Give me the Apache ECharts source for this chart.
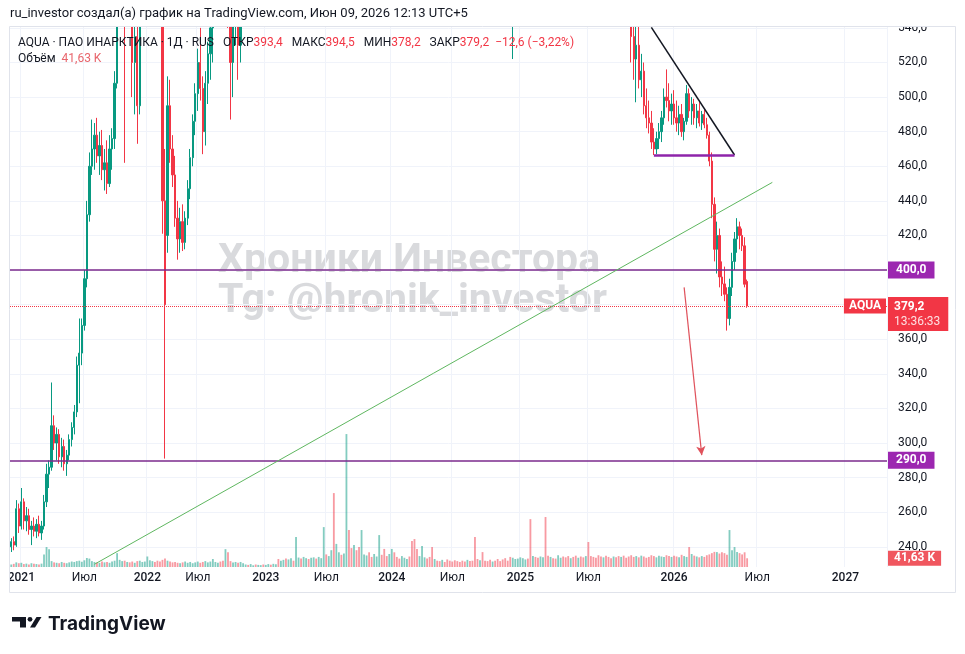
<!DOCTYPE html>
<html lang="ru">
<head>
<meta charset="utf-8">
<title>AQUA · ПАО ИНАРКТИКА</title>
<script src="https://cdn.jsdelivr.net/npm/echarts/dist/echarts.min.js"></script>
<style>
  html, body { margin: 0; padding: 0; background: #fff; }
  #chart { width: 965px; height: 654px; }
</style>
</head>
<body>
<div id="chart"></div>
<script>
// Свечи по 5 торговых сессий: [открытие, максимум, минимум, закрытие]
// конец 2020 - середина 2022
const candlesStart = [
  [240,245,237,243],[243,246,238,241],[241,267,240,262],[262,265,248,252],[252,274,250,266],
  [266,268,250,255],[255,263,249,258],[258,262,247,250],[250,255,241,252],[252,257,246,249],
  [249,256,245,253],[253,258,246,248],[248,255,244,252],[252,270,250,266],[266,288,263,282],
  [282,290,274,286],[286,335,284,310],[310,316,296,300],[300,309,290,305],[305,308,288,292],
  [292,303,286,298],[298,302,284,288],[288,296,281,293],[293,305,290,302],[302,312,298,309],
  [309,322,305,318],[318,350,315,345],[345,372,323,352],[352,372,345,368],[368,400,365,395],
  [395,440,390,432],[432,468,428,460],[460,487,455,470],[470,485,458,478],[478,488,462,466],
  [466,480,455,472],[472,481,452,458],[458,470,446,462],[462,475,444,450],[450,478,448,470],
  [470,482,458,476],[476,515,470,508],[508,560,505,552],[552,590,545,580],[580,600,560,590],
  [590,610,462,575],[575,605,560,595],[595,610,550,560],[560,575,500,520],[520,545,490,535],
  [535,550,473,495],[495,560,490,552],[552,590,548,585],[585,620,575,610],[610,640,600,625],
  [625,650,610,630],[630,655,615,640],[640,650,600,610],[610,630,590,600],[600,615,560,585],
  [585,595,421,440],[440,470,291,380],[420,512,410,495],[495,510,462,470],[470,478,448,455],
  [455,466,425,430],[430,440,406,418],[418,436,410,428],[428,438,411,416],[416,434,412,430],
  [430,452,426,447],[447,470,441,465],[465,490,460,486],[486,508,478,502],[502,528,492,520],
  [520,540,498,505],[505,512,467,480],[480,515,472,508],[508,532,496,525],[525,548,510,540],
  [540,562,520,555],[555,585,545,578],[578,600,565,590],[590,610,570,585],[585,600,560,575],
  [575,595,555,590],[590,600,540,560],[560,575,487,520],[520,555,500,548],[548,580,530,570],
  [570,585,510,530],[530,570,520,562],[562,600,555,592]
];
// середина 2022 - осень 2025, почти всё выше верхнего края шкалы
const candlesHidden = [
  [592,615,585,608],[608,625,598,602],[602,618,590,612],[612,630,605,625],[625,640,612,618],
  [618,632,605,628],[628,645,620,640],[640,652,628,635],
  [635,650,625,645],[645,660,638,655],[655,668,645,650],[650,662,640,658],[658,675,650,670],
  [670,685,660,665],[665,680,655,676],[676,690,668,684],[684,695,670,678],[678,690,665,686],
  [686,705,680,700],[700,715,690,695],[695,710,685,706],[706,720,698,712],[712,725,700,705],
  [705,718,692,714],[714,730,705,725],[725,740,715,720],[720,735,708,730],[730,748,722,742],
  [742,755,730,738],[738,750,725,745],[745,760,735,752],[752,770,745,765],[765,780,750,758],
  [758,775,748,770],[770,790,760,785],[785,800,770,778],[778,795,768,790],[790,810,780,805],
  [805,820,790,798],[798,815,785,810],[810,880,805,860],[860,890,830,845],[845,860,820,830],
  [830,850,815,842],[842,858,825,835],[835,848,815,822],[822,840,810,832],[832,850,820,845],
  [845,862,835,850],[850,865,830,838],[838,852,820,828],[828,845,815,840],[840,858,830,850],
  [850,868,840,860],[860,875,845,852],[852,866,838,845],[845,858,828,835],[835,850,820,842],
  [842,860,830,855],[855,870,840,848],[848,862,832,838],[838,850,820,826],[826,842,812,835],
  [835,852,825,846],[846,864,838,858],[858,875,845,850],[850,866,836,842],[842,855,825,830],
  [830,845,815,822],[822,838,808,832],[832,848,820,840],[840,856,830,848],[848,862,835,840],
  [840,852,822,828],[828,842,810,815],[815,830,800,822],[822,836,808,812],[812,826,795,802],
  [802,818,790,810],[810,825,798,805],[805,820,788,795],[795,810,780,788],[788,802,770,778],
  [778,792,765,770],[770,785,755,762],[762,778,748,755],[755,770,740,745],[745,760,728,735],
  [735,752,722,742],[742,758,730,736],[736,750,720,726],[726,740,710,718],[718,732,700,708],
  [708,725,695,715],[715,730,702,706],[706,720,690,698],[698,712,682,690],[690,705,675,682],
  [682,698,668,688],[688,702,672,678],[678,692,660,668],[668,680,640,648],[648,660,625,632],
  [632,648,612,620],[620,635,600,610],[610,628,590,598],[598,620,522,612],[612,640,605,632],
  [632,655,625,648],
  [648,665,635,655],[655,672,642,660],[660,678,648,668],[668,684,655,662],[662,676,645,650],
  [650,668,640,660],[660,675,648,655],[655,670,640,645],[645,660,630,652],[652,668,640,660],
  [660,672,645,650],[650,664,632,638],[638,652,622,645],[645,660,632,640],[640,655,625,632],
  [632,648,618,640],[640,656,628,646],[646,660,630,636],[636,650,620,628],[628,642,612,620],
  [620,636,605,630],[630,645,615,622],[622,638,608,615],[615,630,600,624],[624,640,610,618],
  [618,632,602,608],[608,625,595,615],
  [615,630,600,610],[610,626,596,602],[602,618,588,598],[598,612,582,590],[590,606,576,585],
  [585,600,570,578],[578,594,565,588],[588,602,574,580],[580,596,566,572],[572,588,560,568],
  [568,582,555,575],[575,590,560,566],[566,580,552,560],[560,576,548,570],[570,584,556,562],
  [562,578,550,558],[558,572,546,552]
];
// осень 2025 - июнь 2026
const candlesEnd = [
  [552,565,520,535],[535,550,510,522],[522,545,497,530],[530,542,505,510],[510,525,500,515],
  [515,520,490,495],[495,505,482,488],[488,498,479,485],[485,492,470,474],[474,482,466.5,470],
  [470,480,467,476],[476,485,470,480],[480,492,474,488],[488,505,484,500],[500,516,494,498],
  [498,508,486,492],[492,502,484,496],[496,504,484,488],[488,498,480,485],[485,495,478,490],
  [490,496,477,480],[480,488,475,486],[486,507,484,502],[502,505,488,492],[492,500,484,496],
  [496,499,484,488],[488,496,482,492],[492,497,483,485],[485,492,481,490],[490,492.5,482,484],
  [484,488,476,478],[478,480,460,463],[463,468,430,438],[438,442,405,412],[412,428,398,420],
  [420,424,390,396],[396,405,385,392],[392,402,382,386],[386,390,365,372],[372,395,368,390],
  [390,410,385,405],[405,422,400,418],[418,430,410,425],[425,428,412,420],[420,424,411,414],
  [414,419,390,391.8],[393.4,394.5,378.2,379.2]
];

// Объём, тыс.
const volumeStart = [
  12,15,22,18,20,14,16,12,18,15, 14,12,16,60,95,85,28,22,20,18,
  24,20,18,22,26,24,28,30,25,32, 43,40,28,24,22,20,26,22,24,20,
  26,30,66,34,28,30,24,22,26,20, 28,30,24,26,50,32,28,24,30,26,
  34,40,30,26,22,24,20,18,22,26, 20,24,18,22,26,20,24,28,22,26,
  38,24,20,26,30,85,70,28,22,24, 20,24,18
];
const volumeHidden = [
  12,10,14,8,12,10,9,
  12,10,14,11,15,13,38,30,34,40, 36,42,30,143,45,40,48,42,38,44,
  46,40,48,42,190,60,52,80,352,110, 70,58,64,633,176,90,105,80,95,176,
  60,55,70,48,62,50,152,58,86,52, 62,86,70,48,40,52,44,38,50,124,
  133,86,52,100,46,40,48,95,38,30, 28,34,24,36,30,26,32,28,24,30,
  26,34,28,30,143,38,32,71,30,28, 34,26,30,38,28,36,42,30,48,44,
  38,40,46,42,36,40,228,52,48,44, 50,46,238,54,48,42,40,56,44,50,
  46,52,42,48,54,44,50,46,52,119, 52,48,44,56,50,46,54,48,42,50,
  46,52,48,54,44,50
];
const volumeEnd = [
  56,48,52,46,
  54,50,44,48,56,52,46,54,50,48, 56,52,48,54,50,46,58,52,48,95,
  62,54,50,46,52,48,56,60,66,72, 71,64,70,66,58,176,80,95,72,66,
  60,70,41.63
];

// Шкала времени (номер бара) и подписи
const slotCount = 348;
const tickBars = [4, 29, 54, 74, 101, 125, 151, 175, 202, 229, 263, 296, 331];
const tickLabels = ['2021', 'Июл', '2022', 'Июл', '2023', 'Июл', '2024', 'Июл', '2025', 'Июл', '2026', 'Июл', '2027'];

// Горизонтальные уровни и рисунки автора: [номер бара, цена]
const levels = [400, 290];
const trendGreen = [[33, 229.9], [302, 450.7]];
const trendBlack = [[254, 540.3], [287, 466.5]];
const supportLine = [[255, 466.6], [287, 466.6]];
const targetArrow = [[267, 390], [274, 293]];

const UP = '#089981';
const DOWN = '#F23645';
const FONT = 'Roboto, "Noto Sans", sans-serif';
const NONE = 'rgba(0,0,0,0)';

const candles = candlesStart.concat(candlesHidden, candlesEnd);
const volume = volumeStart.concat(volumeHidden, volumeEnd);

const categories = new Array(slotCount).fill('');
tickBars.forEach((b, k) => { categories[b] = tickLabels[k]; });

const fmt = (v, d) => v.toFixed(d == null ? 1 : d).replace('.', ',').replace('-', '−');
const last = candles[candles.length - 1];
const prevClose = candles[candles.length - 2][3];
const change = last[3] - prevClose;
const changePct = fmt(change / prevClose * 100, 2);
const lastVol = volume[volume.length - 1];

const chart = echarts.init(document.getElementById('chart'));

const pairLine = (pts, style, endSymbol) => [
  { coord: pts[0], symbol: 'none', lineStyle: style },
  { coord: pts[1], symbol: endSymbol || 'none', symbolSize: [7, 9] }
];

const option = {
  animation: false,
  backgroundColor: '#fff',
  grid: [
    // цена
    { left: 10, right: 78, top: 27, bottom: 87, outerBoundsMode: 'none' },
    // объём
    { left: 10, right: 78, top: 420, bottom: 87, outerBoundsMode: 'none' },
    // подписи ценовой шкалы (шаг 20 от 220 до 560)
    { left: 10, right: 78, top: -6.7, bottom: 72.6, outerBoundsMode: 'none' }
  ],
  xAxis: [
    {
      type: 'category', gridIndex: 0, data: categories, boundaryGap: true,
      axisLine: { show: false }, axisTick: { show: false },
      axisLabel: {
        interval: (i, v) => v !== '', margin: 5, color: '#131722', fontSize: 12, fontFamily: FONT,
        formatter: v => (v === 'Июл' ? v : '{y|' + v + '}'),
        rich: { y: { fontWeight: 500, fontSize: 12, color: '#131722', fontFamily: FONT } }
      },
      splitLine: { show: true, interval: (i, v) => v !== '', lineStyle: { color: '#f0f3fa', width: 1 } }
    },
    {
      type: 'category', gridIndex: 1, data: categories, boundaryGap: true,
      axisLine: { show: false }, axisTick: { show: false }, axisLabel: { show: false }, splitLine: { show: false }
    },
    { type: 'value', gridIndex: 2, show: false, min: 0, max: 1 }
  ],
  yAxis: [
    { type: 'value', gridIndex: 0, min: 228.33, max: 540.52, show: false, splitLine: { show: false } },
    { type: 'value', gridIndex: 1, min: 0, max: 700, show: false, splitLine: { show: false } },
    {
      type: 'value', gridIndex: 2, min: 220, max: 560, interval: 20, position: 'right',
      axisLine: { show: false }, axisTick: { show: false },
      axisLabel: {
        margin: 11, color: '#131722', fontSize: 12, fontFamily: FONT,
        showMinLabel: false, showMaxLabel: true, formatter: v => fmt(v)
      },
      splitLine: { show: true, showMinLine: false, showMaxLine: false, lineStyle: { color: '#f0f3fa', width: 1 } }
    }
  ],
  series: [
    {
      type: 'candlestick', xAxisIndex: 0, yAxisIndex: 0, barWidth: '72%', clip: true,
      data: candles.map(r => [r[0], r[3], r[2], r[1]]),
      itemStyle: { color: UP, color0: DOWN, borderColor: UP, borderColor0: DOWN, borderWidth: 1 },
      markLine: {
        silent: true, symbol: 'none', animation: false,
        label: { show: false },
        emphasis: { disabled: true },
        data: [
          ...levels.map(v => ({
            yAxis: v,
            lineStyle: { color: '#7b2a8c', width: 1.5, type: 'solid' },
            label: {
              show: true, position: 'end', distance: 1, formatter: fmt(v),
              color: '#fff', backgroundColor: '#9c27b0', padding: [3, 8, 2, 8],
              fontSize: 12, fontWeight: 'bold', fontFamily: FONT
            }
          })),
          {
            yAxis: last[3],
            lineStyle: { color: DOWN, width: 1, type: 'dotted' },
            label: {
              show: true, position: 'end', distance: 1, offset: [0, 8],
              formatter: '{p|' + fmt(last[3]) + '}\n{t|13:36:33}',
              backgroundColor: DOWN, padding: [2, 8, 2, 6],
              rich: {
                p: { color: '#fff', fontSize: 12, fontWeight: 'bold', fontFamily: FONT, lineHeight: 15 },
                t: { color: '#fde0e2', fontSize: 12, fontFamily: FONT, lineHeight: 15 }
              }
            }
          },
          {
            yAxis: last[3],
            lineStyle: { color: NONE, width: 0 },
            label: {
              show: true, position: 'insideEnd', distance: 1, formatter: 'AQUA',
              color: '#fff', backgroundColor: DOWN, padding: [2, 5, 1, 5],
              fontSize: 12, fontWeight: 'bold', fontFamily: FONT
            }
          },
          pairLine(trendGreen, { color: '#5fb760', width: 1, type: 'solid' }),
          pairLine(trendBlack, { color: '#131722', width: 1.5, type: 'solid' }),
          pairLine(supportLine, { color: '#8e24aa', width: 2.5, type: 'solid' }),
          pairLine(targetArrow, { color: '#e0525c', width: 1.2, type: 'solid' }, 'arrow')
        ]
      }
    },
    {
      type: 'bar', xAxisIndex: 1, yAxisIndex: 1, barWidth: '72%',
      data: volume.map((v, i) => ({
        value: v,
        itemStyle: { color: candles[i][3] >= candles[i][0] ? 'rgba(8,153,129,0.5)' : 'rgba(242,54,69,0.5)' }
      })),
      markLine: {
        silent: true, symbol: 'none', animation: false,
        emphasis: { disabled: true },
        data: [{
          yAxis: lastVol,
          lineStyle: { color: NONE, width: 0 },
          label: {
            show: true, position: 'end', distance: 1, formatter: fmt(lastVol, 2) + ' K',
            color: '#fff', backgroundColor: '#f0575f', padding: [2, 6, 1, 6],
            fontSize: 12, fontWeight: 'bold', fontFamily: FONT
          }
        }]
      }
    }
  ],
  graphic: [
    // водяной знак
    {
      type: 'text', x: 218, y: 262, z: 0, silent: true,
      style: { text: 'Хроники Инвестора', font: 'bold 41px ' + FONT, fill: 'rgba(120,123,134,0.28)', align: 'left', verticalAlign: 'middle' }
    },
    {
      type: 'text', x: 218, y: 302, z: 0, silent: true,
      style: { text: 'Tg: @hronik_investor', font: 'bold 41px ' + FONT, fill: 'rgba(120,123,134,0.28)', align: 'left', verticalAlign: 'middle' }
    },
    // шапка
    { type: 'rect', z: 100, silent: true, shape: { x: 0, y: 0, width: 965, height: 27 }, style: { fill: '#fff' } },
    { type: 'rect', z: 100, silent: true, shape: { x: 0, y: 568, width: 9, height: 24 }, style: { fill: '#fff' } },
    {
      type: 'rect', z: 101, silent: true,
      shape: { x: 9.5, y: 26.5, width: 946, height: 566 },
      style: { fill: 'none', stroke: '#e0e3eb', lineWidth: 1 }
    },
    {
      type: 'text', x: 10, y: 14, z: 102, silent: true,
      style: { text: 'ru_investor создал(а) график на TradingView.com, Июн 09, 2026 12:13 UTC+5', font: '13px ' + FONT, fill: '#131722', verticalAlign: 'middle' }
    },
    {
      type: 'text', x: 18, y: 43, z: 102, silent: true,
      style: {
        text: 'AQUA · ПАО ИНАРКТИКА · 1Д · RUS   ОТКР{r|' + fmt(last[0]) + '}   МАКС{r|' + fmt(last[1]) +
          '}   МИН{r|' + fmt(last[2]) + '}   ЗАКР{r|' + fmt(last[3]) + '}  {r|' + fmt(change) + ' (' + changePct + '%)}',
        font: '12px ' + FONT, fill: '#131722', verticalAlign: 'middle',
        rich: { r: { fill: DOWN, font: '12px ' + FONT } }
      }
    },
    {
      type: 'text', x: 18, y: 59, z: 102, silent: true,
      style: {
        text: 'Объём  {r|' + fmt(lastVol, 2) + ' K}',
        font: '12px ' + FONT, fill: '#131722', verticalAlign: 'middle',
        rich: { r: { fill: '#e8656c', font: '12px ' + FONT } }
      }
    },
    // логотип TradingView
    {
      type: 'group', x: 0, y: 0, z: 102, silent: true,
      children: [
        { type: 'rect', shape: { x: 12, y: 617, width: 14, height: 4.5 }, style: { fill: '#131722' } },
        { type: 'rect', shape: { x: 20, y: 617, width: 6, height: 10.5 }, style: { fill: '#131722' } },
        { type: 'circle', shape: { cx: 30, cy: 619.3, r: 2.4 }, style: { fill: '#131722' } },
        { type: 'polygon', shape: { points: [[30, 627.5], [35, 627.5], [41.5, 617], [36.5, 617]] }, style: { fill: '#131722' } },
        {
          type: 'text', x: 48, y: 624,
          style: { text: 'TradingView', font: 'bold 19px Inter, ' + FONT, fill: '#131722', verticalAlign: 'middle' }
        }
      ]
    }
  ]
};

chart.setOption(option);
</script>
</body>
</html>
